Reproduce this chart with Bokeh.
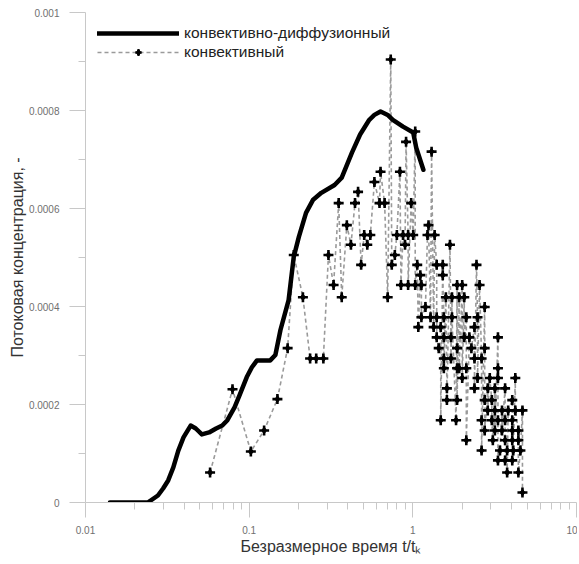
from bokeh.plotting import figure
from bokeh.models import FixedTicker, PrintfTickFormatter, Legend, LegendItem, ColumnDataSource
from bokeh.embed import file_html
from bokeh.resources import INLINE

# ---- data ----
series_names = ["конвективно-диффузионный", "конвективный"]

cd_t = [0.0141, 0.0240, 0.0277, 0.0298, 0.0320, 0.0344, 0.0369, 0.0397, 0.0439, 0.0472,
        0.0514, 0.0569, 0.0628, 0.0685, 0.0736, 0.0814, 0.0874, 0.0967, 0.1039, 0.1116,
        0.1252, 0.1345, 0.1446, 0.1553, 0.1742, 0.1872, 0.2012, 0.2225, 0.2460, 0.2760,
        0.3326, 0.3678, 0.4246, 0.4763, 0.5420, 0.5824, 0.6349, 0.7020, 0.7543, 0.8710,
        1.005, 1.049, 1.160]
cd_c = [0.0, 0.0, 0.0000143, 0.0000286, 0.000045, 0.0000716, 0.000106, 0.000133, 0.000157, 0.000151,
        0.000139, 0.000143, 0.000151, 0.000157, 0.000168, 0.000194, 0.000219, 0.000256, 0.000276, 0.000290,
        0.000290, 0.000290, 0.000301, 0.000352, 0.000413, 0.000501, 0.000542, 0.000591, 0.000618, 0.000632,
        0.000648, 0.000663, 0.000714, 0.000751, 0.000781, 0.000791, 0.000798, 0.000791, 0.000781, 0.000767,
        0.000755, 0.000724, 0.000679]

cv_t = [0.0577, 0.0791, 0.1024, 0.1234, 0.1488, 0.1718, 0.1873, 0.2130, 0.2357, 0.2568,
        0.2840, 0.3051, 0.3279, 0.3523, 0.3678, 0.3952, 0.4186, 0.4433, 0.4628, 0.4832,
        0.5045, 0.5267, 0.5499, 0.5824, 0.6258, 0.6349, 0.6724, 0.7020, 0.7329, 0.7435,
        0.7763, 0.7989, 0.8341, 0.8462, 0.8710, 0.8963, 0.9093, 0.9358, 0.9358, 0.9770,
        1.005, 1.034, 1.034, 1.064, 1.080, 1.111, 1.128, 1.128, 1.194, 1.229,
        1.247, 1.283, 1.302, 1.340, 1.359, 1.399, 1.399, 1.399, 1.439, 1.481,
        1.481, 1.524, 1.524, 1.547, 1.547, 1.547, 1.547, 1.592, 1.615, 1.615,
        1.686, 1.710, 1.710, 1.735, 1.735, 1.837, 1.864, 1.864, 1.864, 1.864,
        1.919, 1.919, 2.003, 2.003, 2.062, 2.062, 2.122, 2.122, 2.122, 2.215,
        2.279, 2.380, 2.380, 2.380, 2.449, 2.485, 2.485, 2.557, 2.631, 2.631,
        2.631, 2.748, 2.748, 2.748, 2.748, 2.869, 2.869, 2.952, 3.038, 3.038,
        3.082, 3.172, 3.172, 3.172, 3.312, 3.312, 3.312, 3.312, 3.312, 3.408,
        3.507, 3.507, 3.662, 3.662, 3.662, 3.662, 3.769, 3.769, 3.823, 4.050,
        4.050, 4.050, 4.050, 4.050, 4.108, 4.228, 4.228, 4.414, 4.414, 4.414,
        4.543, 4.675, 4.675]
cv_c = [0.0000613, 0.000231, 0.000104, 0.000147, 0.000211, 0.000315, 0.000505, 0.000419, 0.000294, 0.000294,
        0.000294, 0.000505, 0.000444, 0.000611, 0.000419, 0.000566, 0.000526, 0.000611, 0.000634, 0.000485,
        0.000546, 0.000526, 0.000546, 0.000654, 0.000611, 0.000675, 0.000611, 0.000419, 0.000904, 0.000485,
        0.000505, 0.000546, 0.000675, 0.000444, 0.000546, 0.000526, 0.000736, 0.000546, 0.000444, 0.000611,
        0.000546, 0.000757, 0.000444, 0.000485, 0.000358, 0.000464, 0.000444, 0.000378, 0.000399, 0.000546,
        0.000566, 0.000378, 0.000716, 0.000358, 0.000546, 0.000485, 0.000378, 0.000337, 0.000315, 0.000358,
        0.000168, 0.000485, 0.000464, 0.000378, 0.000337, 0.000294, 0.000274, 0.000419, 0.000233, 0.000209,
        0.000526, 0.000337, 0.000294, 0.000419, 0.000378, 0.000168, 0.000444, 0.000315, 0.000274, 0.000209,
        0.000419, 0.000274, 0.000444, 0.000254, 0.000419, 0.000337, 0.000378, 0.000274, 0.000127, 0.000337,
        0.000315, 0.000358, 0.000294, 0.000233, 0.000485, 0.000378, 0.000254, 0.000444, 0.000294, 0.000168,
        0.000106, 0.000399, 0.000315, 0.000209, 0.000147, 0.000233, 0.000188, 0.000254, 0.000209, 0.000168,
        0.000127, 0.000233, 0.000188, 0.000147, 0.000337, 0.000274, 0.000254, 0.000168, 0.0000859, 0.000106,
        0.000188, 0.000147, 0.000233, 0.000168, 0.000127, 0.0000859, 0.000106, 0.0000613, 0.000188, 0.000209,
        0.000168, 0.000147, 0.000127, 0.0000859, 0.000106, 0.000254, 0.000188, 0.000147, 0.000127, 0.0000613,
        0.000106, 0.000188, 0.0000204]

x_major = [0.01, 0.1, 1, 10]
x_minor = [0.02, 0.03, 0.04, 0.05, 0.06, 0.07, 0.08, 0.09,
           0.2, 0.3, 0.4, 0.5, 0.6, 0.7, 0.8, 0.9,
           2, 3, 4, 5, 6, 7, 8, 9]
y_major = [0, 0.0002, 0.0004, 0.0006, 0.0008, 0.001]
y_minor = [0.0001, 0.0003, 0.0005, 0.0007, 0.0009]

x_label = "Безразмерное время t/tₖ"
y_label = "Потоковая концентрация, -"

FONT = "Liberation Sans"

p = figure(width=577, height=557, x_axis_type="log", x_range=(0.01, 10), y_range=(0, 0.001),
           output_backend="svg", toolbar_location=None,
           min_border_left=85, min_border_right=1, min_border_top=12, min_border_bottom=55)
p.xgrid.visible = False
p.ygrid.visible = False
p.outline_line_color = None
p.background_fill_color = "white"
p.border_fill_color = "white"

for ax in (p.xaxis[0], p.yaxis[0]):
    ax.axis_line_color = "#c8c8c8"
    ax.axis_line_width = 1
    ax.major_tick_line_color = "#c8c8c8"
    ax.minor_tick_line_color = "#c8c8c8"
    ax.major_tick_out = 16
    ax.major_tick_in = 0
    ax.minor_tick_out = 7
    ax.minor_tick_in = 0
    ax.major_label_text_font = FONT
    ax.major_label_text_font_size = "10px"
    ax.major_label_text_color = "#707070"
    ax.major_label_standoff = 10
    ax.axis_label_text_font = FONT
    ax.axis_label_text_font_size = "16px"
    ax.axis_label_text_font_style = "normal"
    ax.axis_label_text_color = "#333333"
    ax.formatter = PrintfTickFormatter(format="%g")

p.xaxis[0].ticker = FixedTicker(ticks=x_major, minor_ticks=x_minor)
p.yaxis[0].ticker = FixedTicker(ticks=y_major, minor_ticks=y_minor)
p.xaxis[0].axis_label = x_label
p.yaxis[0].axis_label = y_label
p.xaxis[0].major_tick_out = 15
p.xaxis[0].major_label_standoff = 8
p.xaxis[0].axis_label_standoff = 1
p.yaxis[0].axis_label_standoff = 0

src_cd = ColumnDataSource(dict(t=cd_t, c=cd_c))
src_cv = ColumnDataSource(dict(t=cv_t, c=cv_c))

r_dash = p.line("t", "c", source=src_cv, line_color="#9a9a9a", line_width=1.6, line_dash="4 3")
r_solid = p.line("t", "c", source=src_cd, line_color="black", line_width=4.5, line_join="round", line_cap="round")
r_cross = p.scatter("t", "c", source=src_cv, marker="cross", size=10, line_color="black", line_width=2.6)
r_dia = p.scatter("t", "c", source=src_cv, marker="diamond", size=7, line_color="black", fill_color="black")

legend = Legend(items=[LegendItem(label=series_names[0], renderers=[r_solid]),
                       LegendItem(label=series_names[1], renderers=[r_dash, r_cross, r_dia])],
                location="top_left", margin=12, padding=0, spacing=1,
                glyph_width=82, glyph_height=16, label_height=16, label_standoff=5,
                border_line_color=None, background_fill_alpha=0,
                label_text_font=FONT, label_text_font_size="15.5px", label_text_color="#222222")
p.add_layout(legend)

open("out.html", "w").write(file_html(p, INLINE))
